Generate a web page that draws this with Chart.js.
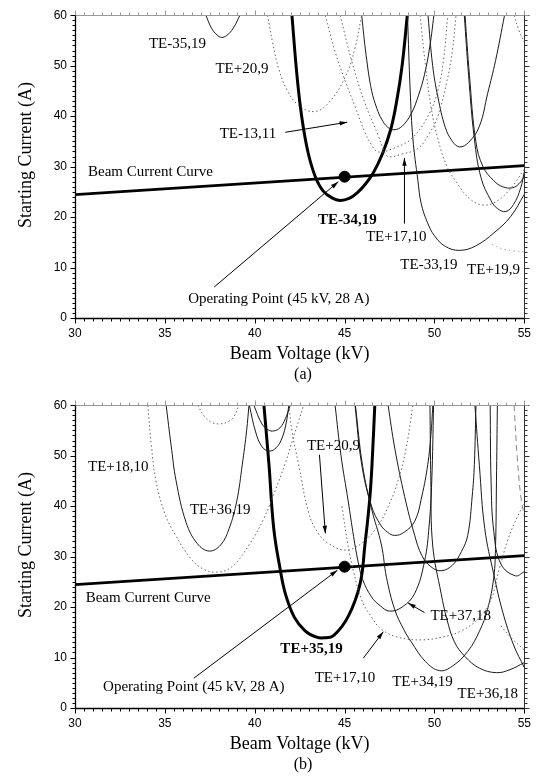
<!DOCTYPE html>
<html>
<head>
<meta charset="utf-8">
<script src="https://cdn.jsdelivr.net/npm/chart.js@4.4.1/dist/chart.umd.min.js"></script>
<style>
  body { margin: 0; background: #fff; }
  .panel { width: 539px; height: 390px; }
</style>
</head>
<body>
<div class="panel"><canvas id="chartA" width="539" height="390"></canvas></div>
<div class="panel"><canvas id="chartB" width="539" height="390"></canvas></div>
<script>
// axis ticks
const xTickValues = [30, 35, 40, 45, 50, 55];
const yTickValues = [0, 10, 20, 30, 40, 50, 60];

// beam current line and operating point (kV, A)
const beamVoltage = [30, 55];
const beamCurrent = [24.45, 30.2];
const operatingPoint = [45, 28];

// panel (a) starting current curves, [kV, A]
const aTE35_19 = [[37.28,60],[37.6,57.4],[37.9,56.1],[38.15,55.6],[38.45,56.0],[38.8,57.4],[39.18,60]];
const aTE20_9 = [[40.71,60],[41.0,54.5],[41.34,49.3],[41.8,45.2],[42.4,42.3],[43.3,40.9],[44.1,42.6],[45.03,47.7],[45.58,53.5],[45.95,60]];
const aTE34_19 = [[42.07,60],[42.3,50],[42.5,43],[42.72,37.4],[43.0,32.3],[43.37,28.0],[43.8,25.2],[44.3,23.8],[44.75,23.3],[45.25,23.7],[45.7,24.8],[46.15,26.5],[46.6,28.8],[47.1,32.5],[47.57,37.4],[47.9,43],[48.2,50],[48.49,60]];
const aTE13_11 = [[43.92,60],[44.47,52.8],[45.03,47.0],[45.58,41.9],[46.13,36.8],[46.5,34.3],[46.87,32.9],[47.7,33.6],[48.71,35.5],[49.64,40],[50.19,45.1],[50.5,51],[50.74,60]];
const aTE17_10 = [[44.75,60],[45.4,50.9],[46.13,42.6],[46.87,36.2],[47.15,33.5],[47.42,32.0],[48.2,32.5],[49.08,33.6],[49.7,36.5],[50.19,40],[50.7,47],[51.0,53],[51.2,60]];
const aModeA = [[45.95,60],[46.2,52],[46.5,45.1],[46.8,41.5],[47.06,39.4],[47.4,37.8],[47.75,37.3],[48.2,38.0],[48.71,40.5],[49.1,44],[49.45,48.3],[49.75,54],[49.97,60]];
const aTE33_19 = [[48.5,60],[48.65,45],[48.8,35.5],[49.08,27.2],[49.26,22.7],[49.6,19],[50.0,16.3],[50.6,14.2],[51.4,13.4],[52.3,14.3],[53.32,16.9],[54.24,20.1],[55,24.5]];
const aModeB = [[49.64,60],[49.9,50],[50.19,43.8],[50.6,37.8],[51.0,35],[51.4,33.9],[51.9,34.8],[52.5,38],[52.96,44.5],[53.4,51],[53.9,60]];
const aModeC = [[51.66,60],[51.9,48],[52.22,35.5],[52.59,27.8],[53.14,23.3],[53.5,21.7],[53.97,21.1],[54.4,22.5],[54.8,25.8],[55,29]];
const aModeD = [[51.7,60],[51.95,48],[52.3,35],[52.7,30],[53.3,27.2],[53.8,26.0],[54.34,25.8],[54.7,26.6],[55,28]];
const aModeE = [[49.2,60],[49.5,50],[49.8,42],[50.19,35.5],[50.7,30],[51.3,26.5],[52.0,23.5],[52.7,22.4],[53.4,23.0],[54.2,25.5],[55,29.5]];
const aModeF = [[54.43,60],[54.7,57],[55,54.7]];
const aTE19_9 = [[53.2,14.6],[53.8,13.7],[54.4,13.3],[55,13.1]];

// panel (b) starting current curves
const bModeA = [[36.82,60],[37.2,57.8],[37.6,56.6],[38.02,56.3],[38.5,56.7],[38.85,57.8],[39.13,60]];
const bTE18_10 = [[34.05,60],[34.25,52],[34.5,45.1],[35.0,38.5],[35.6,34.2],[36.4,29.8],[37.1,27.6],[37.84,26.9],[38.7,27.9],[39.68,32.3],[40.5,37.5],[41.15,43.2],[41.7,48.5],[42.08,52.8],[42.72,60]];
const bTE36_19 = [[35.07,60],[35.35,52],[35.62,45.1],[36.18,36.8],[36.8,32.6],[37.47,31.1],[38.1,32.3],[38.57,35.5],[39.0,41],[39.31,48.3],[39.55,55],[39.68,60]];
const bModeB = [[39.7,60],[40.05,54.7],[40.4,51.8],[40.8,50.9],[41.2,51.6],[41.52,53.5],[41.75,56.5],[41.9,60]];
const bModeC = [[39.95,60],[40.4,56.3],[40.75,55.1],[41.06,54.9],[41.4,55.5],[41.7,57.3],[41.98,60]];
const bTE35_19 = [[40.51,60],[40.79,48.3],[41.06,35.5],[41.43,27.2],[41.7,22.7],[42.2,18],[42.8,15.3],[43.4,14.1],[43.85,13.9],[44.4,14.4],[45.21,18.2],[45.86,24.6],[46.13,32.3],[46.41,41.9],[46.55,50],[46.68,60]];
const bTE20_9 = [[41.9,60],[42.08,54.7],[42.44,48.3],[43.0,38.7],[43.5,34.8],[44.1,32.6],[45.03,31.3],[45.9,32.5],[46.87,36.2],[47.5,40.5],[47.98,45.1],[48.4,51],[48.8,60]];
const bTE37_18 = [[44.47,60],[44.8,50],[45.2,41],[45.5,34],[45.75,29],[46.0,25.5],[46.5,22],[47.0,20.2],[47.5,19.2],[48.2,20.0],[48.9,22.7],[49.45,29.1],[49.7,36],[49.85,45],[49.95,60]];
const bModeD = [[45.58,60],[45.95,48.3],[46.5,40],[47.0,36.3],[47.4,34.8],[47.79,34.2],[48.3,34.8],[48.9,37],[49.3,42],[49.63,48.3],[49.8,54],[49.91,60]];
const bModeE = [[47.42,60],[47.79,51.5],[48.34,41.9],[48.9,34.2],[49.3,30.2],[49.8,28.0],[50.37,27.2],[51.0,28.3],[51.5,31],[51.85,34.2],[52.1,42],[52.22,48.3],[52.31,60]];
const bTE34_19 = [[45.6,60],[46.0,48],[46.5,39.5],[47.05,32.3],[47.33,25.9],[47.79,19.5],[48.3,15.5],[48.71,13.1],[49.5,9.2],[50.28,7.4],[51.0,8.3],[51.85,11.2],[52.5,15.2],[52.95,19.5],[53.3,25.9],[53.4,32.3],[53.45,45],[53.5,60]];
const bTE36_18 = [[49.75,60],[49.8,45],[49.9,32.3],[50.37,22.7],[50.7,17.5],[51.11,13.1],[51.7,10.2],[52.5,7.9],[53.45,7.0],[54.2,7.6],[55,9.0]];
const bModeF = [[53.1,60],[53.15,45],[53.3,35],[53.7,28.5],[54.5,26.2],[55,27]];
const bModeG = [[52.25,60],[52.5,48],[52.8,35.5],[53.3,26.5],[53.8,19],[54.4,12.5],[55,8]];
const bTE17_10 = [[44.85,40],[45.2,32],[45.5,27],[45.95,21.4],[46.5,18],[47.05,15.6],[48.0,14.0],[49.27,13.5],[50.5,14.1],[51.5,15.3],[52.4,17.6],[53.14,21.4],[53.6,27.5],[54.1,33.5],[54.6,37.8],[55,40.5]];
const bModeH = [[54.43,60],[54.6,50],[54.8,42],[55,38]];
const bModeI = [[53.69,16.3],[54.3,13.8],[55,11.5]];

// labels and arrows, placed in data units
const notesA = [
  {t: 'TE-35,19', x: 35.70, y: 54.2},
  {t: 'TE+20,9', x: 39.29, y: 49.4},
  {t: 'TE-13,11', x: 39.62, y: 36.5},
  {t: 'Beam Current Curve', x: 34.2, y: 29.0},
  {t: 'TE-34,19', x: 45.15, y: 19.4, bold: true},
  {t: 'TE+17,10', x: 47.87, y: 16.0},
  {t: 'TE-33,19', x: 49.69, y: 10.4},
  {t: 'TE+19,9', x: 53.29, y: 9.4},
  {t: 'Operating Point (45 kV, 28 A)', x: 41.34, y: 3.85}
];
const arrowsA = [
  [41.7, 36.8, 45.15, 38.8],
  [48.33, 18.7, 48.33, 31.7],
  [37.75, 6.15, 44.65, 27.0]
];
const notesB = [
  {t: 'TE+18,10', x: 32.41, y: 47.7},
  {t: 'TE+36,19', x: 38.08, y: 39.2},
  {t: 'TE+20,9', x: 44.38, y: 51.9},
  {t: 'Beam Current Curve', x: 34.07, y: 21.7},
  {t: 'TE+37,18', x: 51.46, y: 18.3},
  {t: 'TE+35,19', x: 43.16, y: 11.6, bold: true},
  {t: 'TE+17,10', x: 45.02, y: 5.9},
  {t: 'TE+34,19', x: 49.33, y: 5.1},
  {t: 'TE+36,18', x: 52.97, y: 2.7},
  {t: 'Operating Point (45 kV, 28 A)', x: 36.61, y: 4.1}
];
const arrowsB = [
  [43.6, 50.2, 43.93, 34.6],
  [49.45, 18.9, 48.53, 20.8],
  [46.04, 9.87, 47.15, 15.1],
  [36.61, 5.9, 44.6, 27.3]
];

const serif = '"Liberation Serif", "Times New Roman", serif';
const sans = '"Liberation Sans", Arial, sans-serif';

const styles = {
  thin:  {w: 1,   c: '#1a1a1a', d: []},
  thick: {w: 3,   c: '#000',    d: []},
  dot:   {w: 1,   c: '#666',    d: [1.5, 2.5]},
  faint: {w: 1,   c: '#aaa',    d: [1.5, 3]},
  dash:  {w: 1,   c: '#888',    d: [6, 4]},
  beam:  {w: 2.6, c: '#000',    d: []}
};

function curve(pts, kind) {
  const s = styles[kind];
  return {
    data: pts.map(p => ({x: p[0], y: p[1]})),
    showLine: true,
    borderColor: s.c,
    borderWidth: s.w,
    borderDash: s.d,
    pointRadius: 0,
    tension: 0.4,
    fill: false
  };
}

function beamSets() {
  return [
    curve(beamVoltage.map((v, i) => [v, beamCurrent[i]]), 'beam'),
    {
      data: [{x: operatingPoint[0], y: operatingPoint[1]}],
      pointRadius: 5.5,
      pointBackgroundColor: '#000',
      pointBorderColor: '#000',
      showLine: false
    }
  ];
}

// frame, outward ticks, labels, arrows, y title and caption
const notesPlugin = {
  id: 'notes',
  afterDraw(chart, args, o) {
    const {ctx, chartArea: a, scales: {x, y}} = chart;
    ctx.save();
    const L = Math.round(a.left) + 0.5, R = Math.round(a.right) + 0.5;
    const T = Math.round(a.top) + 0.5, B = Math.round(a.bottom) + 0.5;
    ctx.lineWidth = 1;

    for (let i = 0; i <= 50; i++) {
      const px = Math.round(x.getPixelForValue(30 + i * 0.5)) + 0.5;
      const len = i % 10 === 0 ? 5 : 3;
      ctx.strokeStyle = '#000';
      ctx.beginPath(); ctx.moveTo(px, B); ctx.lineTo(px, B + len); ctx.stroke();
      ctx.strokeStyle = '#999';
      ctx.beginPath(); ctx.moveTo(px, T); ctx.lineTo(px, T - len); ctx.stroke();
    }
    for (let v = 0; v <= 60; v++) {
      const py = Math.round(y.getPixelForValue(v)) + 0.5;
      const len = v % 10 === 0 ? 5 : 3;
      ctx.strokeStyle = '#000';
      ctx.beginPath(); ctx.moveTo(L, py); ctx.lineTo(L - len, py); ctx.stroke();
      ctx.strokeStyle = '#333';
      ctx.beginPath(); ctx.moveTo(R, py); ctx.lineTo(R + len, py); ctx.stroke();
    }
    ctx.strokeStyle = '#999';
    ctx.beginPath(); ctx.moveTo(L, T); ctx.lineTo(R + 4, T); ctx.stroke();
    ctx.strokeStyle = '#000';
    ctx.lineWidth = 1.3;
    ctx.beginPath(); ctx.moveTo(L, T); ctx.lineTo(L, B); ctx.lineTo(R, B); ctx.stroke();
    ctx.lineWidth = 1;
    ctx.strokeStyle = '#333';
    ctx.beginPath(); ctx.moveTo(R, T); ctx.lineTo(R, B); ctx.stroke();

    ctx.fillStyle = '#000';
    ctx.textAlign = 'center';
    ctx.textBaseline = 'middle';
    o.texts.forEach(n => {
      ctx.font = (n.bold ? 'bold ' : '') + '15px ' + serif;
      ctx.fillText(n.t, x.getPixelForValue(n.x), y.getPixelForValue(n.y));
    });

    ctx.strokeStyle = '#000';
    ctx.lineWidth = 1;
    o.arrows.forEach(ar => {
      const x0 = x.getPixelForValue(ar[0]), y0 = y.getPixelForValue(ar[1]);
      const x1 = x.getPixelForValue(ar[2]), y1 = y.getPixelForValue(ar[3]);
      const ang = Math.atan2(y1 - y0, x1 - x0);
      ctx.beginPath(); ctx.moveTo(x0, y0); ctx.lineTo(x1, y1); ctx.stroke();
      ctx.beginPath();
      ctx.moveTo(x1, y1);
      ctx.lineTo(x1 - 8 * Math.cos(ang - 0.28), y1 - 8 * Math.sin(ang - 0.28));
      ctx.lineTo(x1 - 8 * Math.cos(ang + 0.28), y1 - 8 * Math.sin(ang + 0.28));
      ctx.closePath();
      ctx.fill();
    });

    ctx.font = '18px ' + serif;
    ctx.save();
    ctx.translate(26, 155);
    ctx.rotate(-Math.PI / 2);
    ctx.fillText('Starting Current (A)', 0, 0);
    ctx.restore();

    ctx.font = '16px ' + serif;
    ctx.fillText(o.caption, 303, 375);
    ctx.restore();
  }
};

function makePanel(id, sets, texts, arrows, caption) {
  new Chart(document.getElementById(id), {
    type: 'scatter',
    data: {datasets: sets},
    plugins: [notesPlugin],
    options: {
      responsive: false,
      animation: false,
      events: [],
      layout: {padding: {top: 6, right: 12, left: 0, bottom: 0}},
      plugins: {
        legend: {display: false},
        tooltip: {enabled: false},
        notes: {texts: texts, arrows: arrows, caption: caption}
      },
      scales: {
        x: {
          type: 'linear',
          min: 30,
          max: 55,
          afterBuildTicks: s => { s.ticks = xTickValues.map(v => ({value: v})); },
          afterFit: s => { s.height = 72; },
          ticks: {color: '#000', padding: 8, maxRotation: 0, font: {family: sans, size: 12}},
          grid: {display: false, drawTicks: false},
          border: {display: false},
          title: {
            display: true,
            text: 'Beam Voltage (kV)',
            color: '#000',
            font: {family: serif, size: 18},
            padding: {top: 0, bottom: 25}
          }
        },
        y: {
          type: 'linear',
          min: 0,
          max: 60,
          afterBuildTicks: s => { s.ticks = yTickValues.map(v => ({value: v})); },
          afterFit: s => { s.width = 75; },
          ticks: {color: '#000', padding: 8, font: {family: sans, size: 12}},
          grid: {display: false, drawTicks: false},
          border: {display: false}
        }
      }
    }
  });
}

makePanel('chartA', [
  curve(aTE20_9, 'dot'),
  curve(aTE13_11, 'dot'),
  curve(aTE17_10, 'dot'),
  curve(aModeE, 'dot'),
  curve(aModeF, 'dot'),
  curve(aTE19_9, 'faint'),
  curve(aTE35_19, 'thin'),
  curve(aModeA, 'thin'),
  curve(aTE33_19, 'thin'),
  curve(aModeB, 'thin'),
  curve(aModeC, 'thin'),
  curve(aModeD, 'thin'),
  curve(aTE34_19, 'thick'),
  ...beamSets()
], notesA, arrowsA, '(a)');

makePanel('chartB', [
  curve(bModeA, 'dot'),
  curve(bTE18_10, 'dot'),
  curve(bTE20_9, 'dot'),
  curve(bTE17_10, 'dot'),
  curve(bModeI, 'dot'),
  curve(bModeH, 'dash'),
  curve(bTE36_19, 'thin'),
  curve(bModeB, 'thin'),
  curve(bModeC, 'thin'),
  curve(bTE37_18, 'thin'),
  curve(bModeD, 'thin'),
  curve(bModeE, 'thin'),
  curve(bTE34_19, 'thin'),
  curve(bTE36_18, 'thin'),
  curve(bModeF, 'thin'),
  curve(bModeG, 'thin'),
  curve(bTE35_19, 'thick'),
  ...beamSets()
], notesB, arrowsB, '(b)');
</script>
</body>
</html>
